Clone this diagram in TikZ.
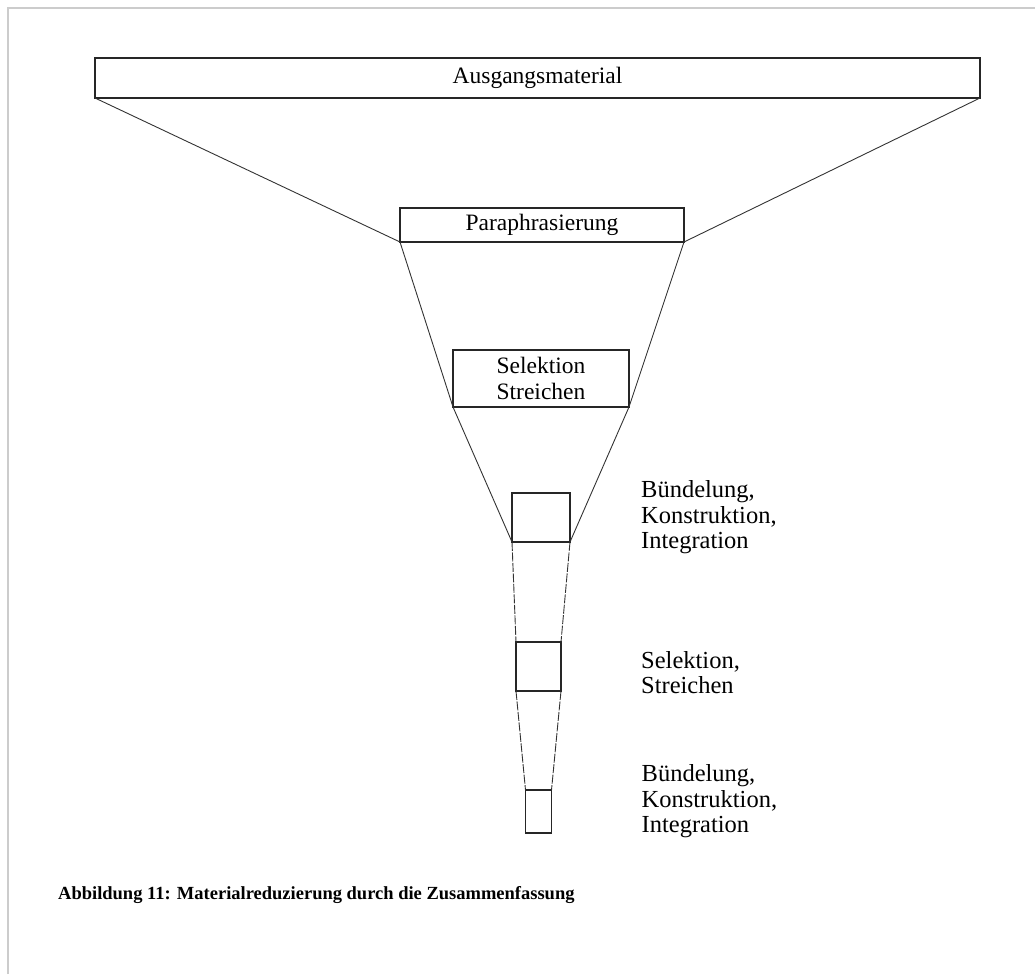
\documentclass[tikz,border=0pt]{standalone}
\usepackage{fontspec}
\setmainfont{Liberation Serif}
\usetikzlibrary{positioning}

\begin{document}
\begin{tikzpicture}[x=1pt, y=-1pt,
                        every node/.style={font=\fontsize{23.5}{25.5}\selectfont},
                        box/.style={rectangle, draw=black!85, line width=1.1pt, inner sep=0pt, outer sep=0pt},
                        funnel/.style={draw=black!80, line width=0.9pt},
                        stem/.style={funnel, dash pattern=on 9pt off 1.5pt},
                        label text/.style={align=left, inner sep=0pt, font=\fontsize{24.5}{25.5}\selectfont}]

        \useasboundingbox (0,0) rectangle (1035,974);
        \draw[line width=2pt, gray!40] (8,974) -- (8,8) -- (1035,8);

        % the boxes of the funnel
        \node[box, minimum width=885pt, minimum height=40pt] (ausgang) at (537.5,78) {Ausgangsmaterial};
        \node[box, minimum width=284pt, minimum height=34pt] (para) at (542,225) {Paraphrasierung};
        \node[box, minimum width=176pt, minimum height=57pt, align=center] (sel) at (541,378.5) {Selektion\\Streichen};
        \node[box, minimum width=58pt, minimum height=49pt] (buend1) at (541,517.5) {};
        \node[box, minimum width=45pt, minimum height=49pt] (sel2) at (538.5,666.5) {};
        \node[box, minimum width=26pt, minimum height=43pt] (buend2) at (538.5,811.5) {};

        \draw[funnel] (ausgang.south west) -- (para.south west) -- (sel.south west) -- (buend1.south west);
        \draw[funnel] (ausgang.south east) -- (para.south east) -- (sel.south east) -- (buend1.south east);
        \draw[stem] (buend1.south west) -- (sel2.north west) (sel2.south west) -- (buend2.north west);
        \draw[stem] (buend1.south east) -- (sel2.north east) (sel2.south east) -- (buend2.north east);

        % labels beside the stem
        \node[label text, right=71pt of buend1] (lab1) {Bündelung,\\Konstruktion,\\Integration};
        \node[label text, right=80pt of sel2, yshift=-6pt] (lab2) {Selektion,\\Streichen};
        \node[label text, right=90pt of buend2, yshift=10pt] (lab3) {Bündelung,\\Konstruktion,\\Integration};

        \node[anchor=west, inner sep=0pt, font=\bfseries\fontsize{18.5}{22}\selectfont] (caption) at (58,895)
          {Abbildung 11: Materialreduzierung durch die Zusammenfassung};
    \end{tikzpicture}
\end{document}
